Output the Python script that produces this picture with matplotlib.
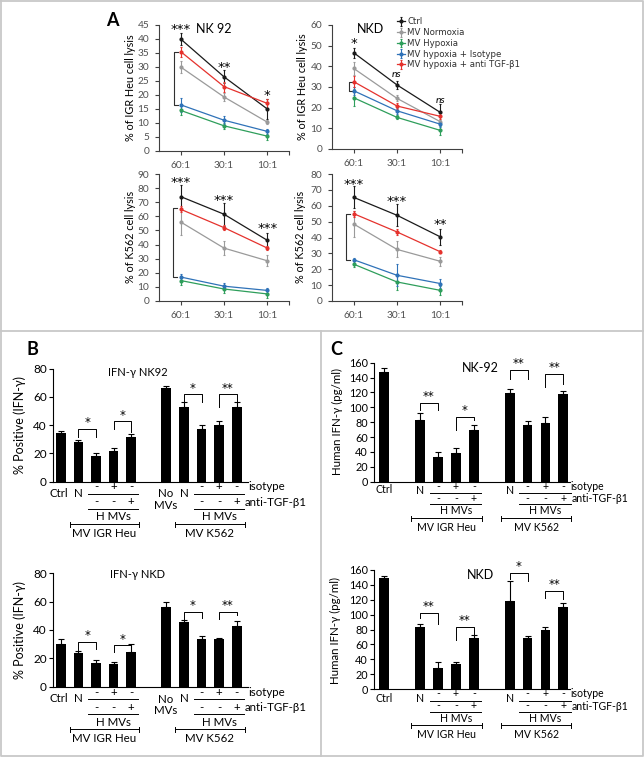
import matplotlib
matplotlib.use('Agg')
import matplotlib.pyplot as plt
from matplotlib.transforms import blended_transform_factory
from matplotlib.lines import Line2D

plt.rcParams['font.family'] = ['Lato', 'DejaVu Sans']

# ---------------- data ----------------
ratios = ['60:1', '30:1', '10:1']
series_names = ['Ctrl', 'MV Normoxia', 'MV Hypoxia', 'MV hypoxia + Isotype', 'MV hypoxia + anti TGF-β1']
series_colors = ['#1a1a1a', '#9a9a9a', '#2e9e5b', '#2f72b8', '#e5322d']

igr_nk92_means = [[40, 26.5, 15], [30, 19.3, 10.3], [14.5, 9, 5.3], [16.5, 11, 7], [35.5, 23, 17]]
igr_nk92_errs = [[2.2, 2.3, 3.6], [2.3, 1.3, 0.7], [1.8, 1, 1.5], [2.6, 1.5, 1], [1.8, 1.8, 1.5]]
igr_nkd_means = [[46.6, 31, 17.7], [39, 24.5, 13.2], [24.8, 15.3, 9], [28.2, 18.5, 12], [32.6, 20.8, 15.8]]
igr_nkd_errs = [[2.5, 2, 4], [3, 1.5, 1], [4, 1, 2], [2, 1.5, 1.5], [2.5, 1.5, 1.5]]
k562_nk92_means = [[74, 61.5, 43], [56, 37.5, 28.5], [14.5, 8.5, 5], [17, 10.5, 7.5], [65, 52, 37.5]]
k562_nk92_errs = [[8, 8, 5], [9, 5, 4], [3, 3, 3], [2, 2, 1.5], [2, 2, 1.5]]
k562_nkd_means = [[65.3, 54, 40.4], [48.5, 32.5, 25], [23.2, 12, 6.7], [26, 16.2, 11], [55, 43.5, 31]]
k562_nkd_errs = [[7, 7, 5], [8, 5, 3], [2, 5, 3], [1, 7, 3], [2, 2, 1]]

# significance above each ratio
igr_nk92_sig = [('***', 43.5), ('**', 30), ('*', 20)]
igr_nkd_sig = [('*', 51), ('ns', 36), ('ns', 23.7)]
k562_nk92_sig = [('***', 84), ('***', 71), ('***', 51.5)]
k562_nkd_sig = [('***', 73.5), ('***', 62.5), ('**', 48)]
# bracket: x of vertical, x of tick ends, y top, y bottom
igr_nk92_bracket = [0.846, 0.94, 35.4, 16.4]
igr_nkd_bracket = [0.892, 0.975, 32.3, 28.2]
k562_nk92_bracket = [0.82, 0.915, 65.6, 17]
k562_nkd_bracket = [0.823, 0.904, 55, 26]

# Panel B: % positive IFN-gamma
b_positions = [0, 1, 2, 3, 4, 6, 7, 8, 9, 10]
ifn_nk92_pct = [34.3, 28.3, 18.3, 21.9, 31.7, 66, 52.9, 36.9, 39.8, 52.9]
ifn_nk92_err = [1.2, 1.4, 1.9, 1.9, 1.9, 1.7, 3.6, 3.3, 3.3, 3.1]
ifn_nkd_pct = [29.9, 23.5, 16.9, 16.0, 24.2, 56.5, 45.9, 33.4, 33.4, 42.8]
ifn_nkd_err = [3.8, 1.7, 1.9, 1.7, 5.9, 3.1, 1.2, 2.6, 1.2, 3.8]
b_isotype = ['', '', '-', '+', '-', '', '', '-', '+', '-']
b_anti = ['', '', '-', '-', '+', '', '', '-', '-', '+']
# brackets (bar i, bar j, top, left leg end, right leg end, label)
ifn_nk92_brackets = [(1, 2, 37.4, 31.4, 31.4, '*'), (3, 4, 42.6, 37, 35, '*'),
                     (6, 7, 61.9, 56.4, 56.4, '*'), (8, 9, 61.9, 53, 56.4, '**')]
ifn_nkd_brackets = [(1, 2, 31.8, 25.9, 26.4, '*'), (3, 4, 29.4, 24.7, 28.2, '*'),
                    (6, 7, 52.9, 47.5, 48.2, '*'), (8, 9, 52.9, 47.5, 50.6, '**')]

# Panel C: human IFN-gamma pg/ml
c_positions = [0, 2, 3, 4, 5, 7, 8, 9, 10]
ifn_pg_nk92 = [148, 83, 33.6, 39, 69.5, 118.8, 76.2, 79.4, 118]
ifn_pg_nk92_err = [4.5, 10, 5.8, 6.7, 6.7, 5.8, 5.8, 8, 4.5]
ifn_pg_nkd = [148.9, 83.9, 28.7, 33.2, 68.2, 118.8, 68.2, 79.4, 110.8]
ifn_pg_nkd_err = [3, 3, 7, 2.7, 4.5, 26, 3.6, 3.6, 4.5]
c_isotype = ['', '', '-', '+', '-', '', '-', '+', '-']
c_anti = ['', '', '-', '-', '+', '', '-', '-', '+']
ifn_pg_nk92_brackets = [(1, 2, 106.3, 96.4, 96.4, '**'), (3, 4, 87.4, 69.5, 83, '*'),
                        (5, 6, 150, 137.7, 137.7, '**'), (7, 8, 144.4, 127.8, 132, '**')]
ifn_pg_nkd_brackets = [(1, 2, 102.7, 95, 88, '**'), (3, 4, 83.9, 66, 70.4, '**'),
                       (5, 6, 156.5, 147.5, 145.3, '*'), (7, 8, 132.3, 121.9, 120.6, '**')]

# ---------------- figure ----------------
W, H = 644, 757
fig = plt.figure(figsize=(W / 100, H / 100), dpi=100)


def add_ax(l, r, t, b):
    return fig.add_axes([l / W, 1 - b / H, (r - l) / W, (b - t) / H])


def ftext(px, py, s, **kw):
    fig.text(px / W, 1 - py / H, s, **kw)


# panel borders
bc = '#c8c8c8'
for xs, ys in [([1, 643, 643, 1, 1], [1, 1, 756, 756, 1]), ([1, 643], [331, 331]), ([321, 321], [331, 756])]:
    fig.add_artist(Line2D([x / W for x in xs], [1 - y / H for y in ys], transform=fig.transFigure,
                          color=bc, lw=1.3))

acol = '#404040'
tcol = '#505050'
star_font = {'family': 'DejaVu Sans'}


def line_panel(box, means, errs, ymax, ystep, sig, bracket, legend=False):
    ax = add_ax(*box)
    for name, m, e, c in zip(series_names, means, errs, series_colors):
        ax.errorbar([1, 2, 3], m, yerr=e, color=c, lw=0.9, elinewidth=0.8, capsize=1.0, capthick=0.8,
                    marker='o', ms=2.0, label=name)
    ax.set_xlim(0.5, 3.5)
    ax.set_ylim(0, ymax)
    ax.set_yticks(range(0, ymax + 1, ystep))
    ax.set_xticks([1, 2, 3])
    ax.set_xticklabels(ratios)
    ax.set_xticks([3.5], minor=True)
    for s in ['top', 'right']:
        ax.spines[s].set_visible(False)
    for s in ['left', 'bottom']:
        ax.spines[s].set_color(acol)
        ax.spines[s].set_linewidth(0.8)
    ax.tick_params(axis='both', which='both', direction='out', length=3, width=0.8, color=acol,
                   labelsize=7.3, labelcolor=tcol)
    ax.tick_params(axis='y', pad=4)
    ax.tick_params(axis='x', pad=4)
    for i, (s, y) in enumerate(sig):
        if s == 'ns':
            ax.text(i + 1, y, s, ha='center', va='center', fontsize=7.5, style='italic')
        else:
            ax.text(i + 1, y, s, ha='center', va='center', fontsize=9.5, fontdict=star_font)
    xv, xt, yt, yb = bracket
    ax.plot([xt, xv, xv, xt], [yt, yt, yb, yb], color='#303030', lw=0.8, clip_on=False)
    if legend:
        handles, labels = ax.get_legend_handles_labels()
        fig.legend(handles, labels, loc='upper left', bbox_to_anchor=(397 / W, 1 - 17.5 / H),
                   frameon=False, prop={'family': 'DejaVu Sans', 'size': 6.2}, handlelength=0.9,
                   handletextpad=0.3, labelspacing=0.2, borderpad=0, borderaxespad=0,
                   labelcolor='#303030')
    return ax


ax1 = line_panel((159, 289, 25, 151), igr_nk92_means, igr_nk92_errs, 45, 5, igr_nk92_sig, igr_nk92_bracket)
ax2 = line_panel((332, 462, 25, 149), igr_nkd_means, igr_nkd_errs, 60, 10, igr_nkd_sig, igr_nkd_bracket, legend=True)
ax3 = line_panel((159, 289, 174, 301), k562_nk92_means, k562_nk92_errs, 90, 10, k562_nk92_sig, k562_nk92_bracket)
ax4 = line_panel((332, 462, 174, 301), k562_nkd_means, k562_nkd_errs, 80, 10, k562_nkd_sig, k562_nkd_bracket)

ftext(196, 29, 'NK 92', fontsize=9, ha='left', va='center')
ftext(370, 29, 'NKD', fontsize=9, ha='center', va='center')
for px, py, s in [(130, 88, '% of IGR Heu cell lysis'), (302, 87, '% of IGR Heu cell lysis'),
                  (130, 237, '% of K562 cell lysis'), (301, 237, '% of K562 cell lysis')]:
    ftext(px, py, s, fontsize=7.8, rotation=90, ha='center', va='center')
ftext(112, 21, 'A', fontsize=13, fontweight='bold', ha='center', va='center')
ftext(32, 350, 'B', fontsize=13, fontweight='bold', ha='center', va='center')
ftext(336, 350, 'C', fontsize=13, fontweight='bold', ha='center', va='center')


def bar_panel(box, pos, vals, errs, ymax, ystep, brackets, star_off, fs):
    ax = add_ax(*box)
    ax.bar(pos, vals, width=0.55, color='black', zorder=2)
    ax.errorbar(pos, vals, yerr=[[0] * len(errs), errs], fmt='none', ecolor='black',
                elinewidth=0.8, capsize=2, capthick=0.8, zorder=3)
    ax.set_ylim(0, ymax)
    ax.set_yticks(range(0, ymax + 1, ystep))
    ax.set_xticks([])
    for s in ['top', 'right']:
        ax.spines[s].set_visible(False)
    for s in ['left', 'bottom']:
        ax.spines[s].set_linewidth(0.8)
    ax.tick_params(axis='y', direction='out', length=3, width=0.8, labelsize=fs, pad=1.5)
    for i, j, top, yl, yr, lab in brackets:
        xi, xj = pos[i], pos[j]
        ax.plot([xi, xi, xj, xj], [yl, top, top, yr], color='black', lw=0.7)
        ax.text((xi + xj) / 2, top + star_off, lab, ha='center', va='center', fontsize=8.5,
                fontdict=star_font)
    return ax


def table(ax, pos, bottom_px, iso, anti, offs, fs, groups, extra):
    tr = blended_transform_factory(ax.transData, fig.transFigure)

    def T(x, dy, s, **kw):
        ax.text(x, 1 - (bottom_px + dy) / H, s, transform=tr, fontsize=fs, va='center', **kw)

    def L(x1, x2, dy, caps=False):
        y = 1 - (bottom_px + dy) / H
        ax.plot([x1, x2], [y, y], transform=tr, color='black', lw=0.7, clip_on=False)
        if caps:
            for x in (x1, x2):
                ax.plot([x, x], [y - 2.5 / H, y + 2.5 / H], transform=tr, color='black', lw=0.7, clip_on=False)
    for x, s in zip(pos, iso):
        if s:
            T(x, offs['row1'], s, ha='center')
    for x, s in zip(pos, anti):
        if s:
            T(x, offs['row2'], s, ha='center')
    T(pos[-1] + offs['iso_dx'], offs['row1'], 'isotype', ha='left')
    T(pos[-1] + offs['anti_dx'], offs['row2'], 'anti-TGF-β1', ha='left')
    for (n_idx, last_idx, label) in groups:
        xa, xb = pos[n_idx + 1], pos[last_idx]
        T(pos[n_idx], offs['N'], 'N', ha='center')
        L(xa - 0.45, xb + 0.4, offs['line1'])
        L(xa - 0.45, xb + 0.4, offs['line2'])
        T((xa + xb) / 2, offs['hmv'], 'H MVs', ha='center')
        c1, c2 = pos[n_idx] - 0.5, xb + 0.45
        L(c1, c2, offs['cap'], caps=True)
        T((c1 + c2) / 2, offs['label'], label, ha='center')
    for x, dy, s in extra:
        T(x, dy, s, ha='center')


b_offs = dict(row1=5.5, row2=20.5, line1=12.5, line2=27.5, hmv=35.5, cap=42.5, label=52, N=12,
              iso_dx=0.66, anti_dx=0.47)
c_offs = dict(row1=4.5, row2=17, line1=11.6, line2=22.5, hmv=29.3, cap=36.3, label=45.5, N=9,
              iso_dx=0.37, anti_dx=0.45)

# Panel B
for box, vals, errs, brk, bottom in [((53, 248, 368.5, 481.5), ifn_nk92_pct, ifn_nk92_err, ifn_nk92_brackets, 481.5),
                                      ((53, 248, 573.3, 686.7), ifn_nkd_pct, ifn_nkd_err, ifn_nkd_brackets, 686.7)]:
    bx = bar_panel(box, b_positions, vals, errs, 80, 20, brk, 4.2, 8.5)
    bx.set_xlim(-0.44, 10.64)
    table(bx, b_positions, bottom, b_isotype, b_anti, b_offs, 8.3,
          [(1, 4, 'MV IGR Heu'), (6, 9, 'MV K562')],
          [(b_positions[0] - 0.1, 12, 'Ctrl'), (b_positions[5] - 0.05, 12.5, 'No'),
           (b_positions[5] - 0.05, 24, 'MVs')])
ftext(138, 373, 'IFN-γ NK92', fontsize=8, ha='center', va='center')
ftext(138, 575, 'IFN-γ NKD', fontsize=8, ha='center', va='center')
ftext(20, 425, '% Positive (IFN-γ)', fontsize=9, rotation=90, ha='center', va='center')
ftext(20, 630, '% Positive (IFN-γ)', fontsize=9, rotation=90, ha='center', va='center')

# Panel C
for box, vals, errs, brk, bottom, cdy in [((374, 570, 362.7, 481.7), ifn_pg_nk92, ifn_pg_nk92_err, ifn_pg_nk92_brackets, 481.7, 8),
                                           ((374, 570, 570, 689), ifn_pg_nkd, ifn_pg_nkd_err, ifn_pg_nkd_brackets, 689, 9)]:
    cx = bar_panel(box, c_positions, vals, errs, 160, 20, brk, 8.5, 7.8)
    cx.set_xlim(-0.57, 10.37)
    table(cx, c_positions, bottom, c_isotype, c_anti, c_offs, 7.6,
          [(1, 4, 'MV IGR Heu'), (5, 8, 'MV K562')],
          [(c_positions[0], cdy, 'Ctrl')])
ftext(480, 368, 'NK-92', fontsize=9, ha='center', va='center')
ftext(480, 575, 'NKD', fontsize=9, ha='center', va='center')
ftext(337, 422, 'Human IFN-γ (pg/ml)', fontsize=8.3, rotation=90, ha='center', va='center')
ftext(335, 630, 'Human IFN-γ (pg/ml)', fontsize=8.3, rotation=90, ha='center', va='center')

fig.savefig('out.png', dpi=100)
